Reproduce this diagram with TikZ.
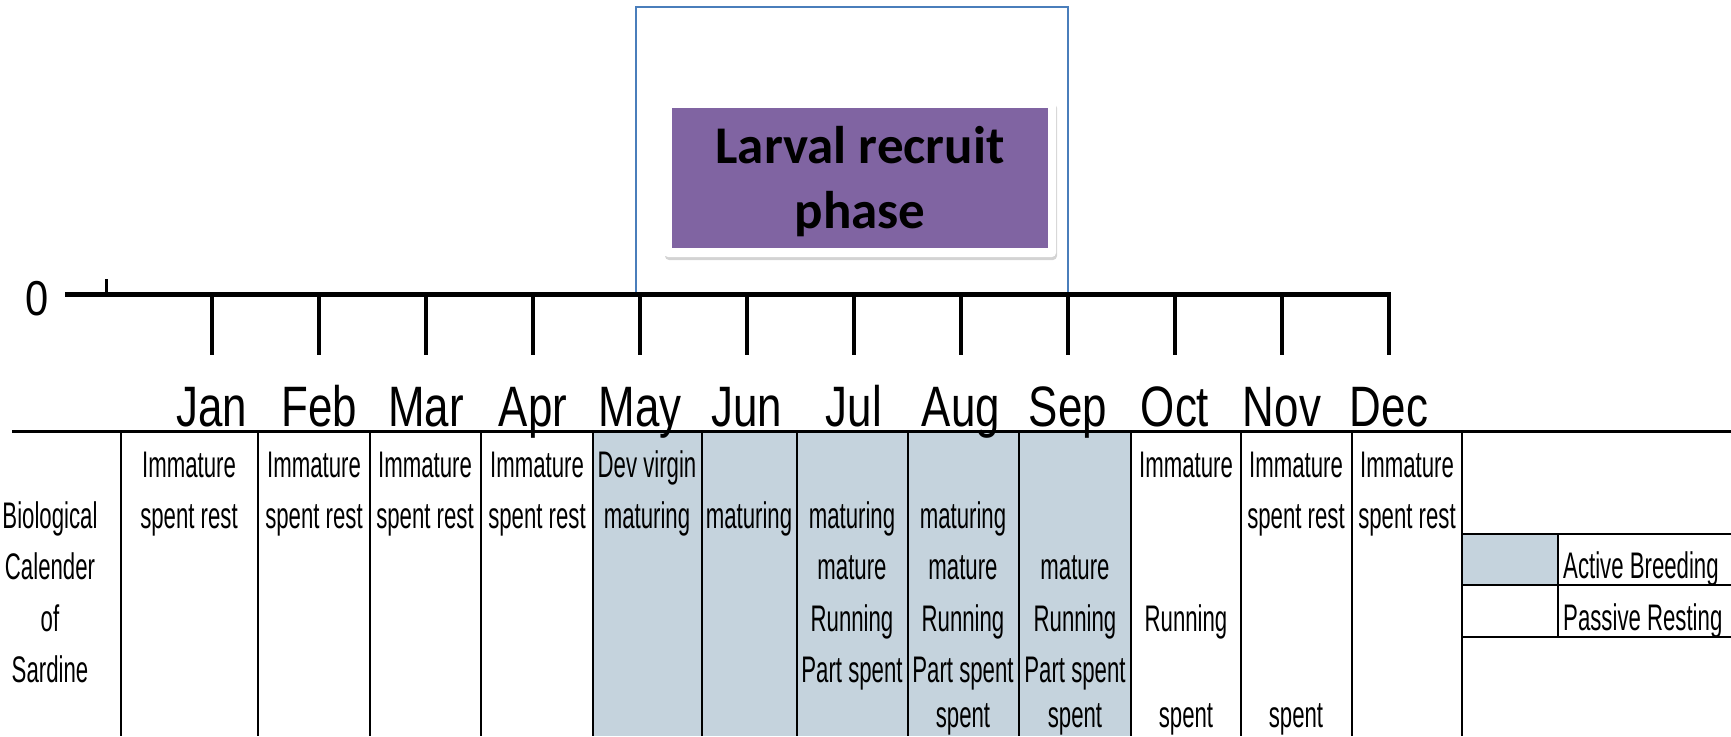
\documentclass[tikz,border=0pt]{standalone}
\usepackage{fontspec}
\setmainfont{Liberation Sans}
\newfontfamily\titlefont{Carlito}
\usetikzlibrary{shadows}
\definecolor{breed}{HTML}{C5D3DD}
\definecolor{phase}{HTML}{8064A2}
\definecolor{edge}{HTML}{4A7EBB}
\def\sqz#1{\scalebox{0.6}[1]{#1}}
\def\msqz#1{\scalebox{0.77}[1]{#1}}
\tikzset{
	celltext/.style={anchor=base, inner sep=0pt, font=\fontsize{37}{40}\selectfont},
	monthlabel/.style={anchor=base, inner sep=0pt, font=\fontsize{57}{60}\selectfont},
	tick/.style={line width=4pt},
	rule/.style={line width=2.2pt},
}

\begin{document}
\begin{tikzpicture}[x=1pt,y=-1pt]
				\useasboundingbox (0,0) rectangle (1731,736);
				\fill[breed] (593,431) rectangle (1131,736);
				\fill[breed] (1462,534) rectangle (1558,585);
				
				\draw[edge, line width=1.5pt] (636,292) -- (636,7) -- (1068,7) -- (1068,292);
				\node (shadowbox) [fill=white, rounded corners=4pt, minimum width=392pt, minimum height=156pt, inner sep=0pt, drop shadow={opacity=0.35, shadow xshift=1pt, shadow yshift=-3pt}] at (860,179) {};
				\node (phasebox) [fill=phase, minimum width=376pt, minimum height=140pt, inner sep=0pt] at (860,178) {};
				\node (phasetext) [align=center, inner sep=0pt, font=\titlefont\bfseries\fontsize{53}{65}\selectfont] at (860,182) {Larval recruit\\phase};
				
				\draw[line width=5pt] (65,294) -- (1391,294);
				\draw[line width=3pt] (106,279) -- (106,294);
				\draw[tick] (212,294) -- (212,355);
				\draw[tick] (319,294) -- (319,355);
				\draw[tick] (426,294) -- (426,355);
				\draw[tick] (533,294) -- (533,355);
				\draw[tick] (640,294) -- (640,355);
				\draw[tick] (747,294) -- (747,355);
				\draw[tick] (854,294) -- (854,355);
				\draw[tick] (961,294) -- (961,355);
				\draw[tick] (1068,294) -- (1068,355);
				\draw[tick] (1175,294) -- (1175,355);
				\draw[tick] (1282,294) -- (1282,355);
				\draw[tick] (1389,294) -- (1389,355);
				
				\node (zero) [monthlabel, font=\fontsize{49}{50}\selectfont] at (37,315) {\scalebox{0.85}[1]{0}};
				\node (jan) [monthlabel] at (212,426) {\msqz{Jan}};
				\node (feb) [monthlabel] at (319,426) {\msqz{Feb}};
				\node (mar) [monthlabel] at (426,426) {\msqz{Mar}};
				\node (apr) [monthlabel] at (533,426) {\msqz{Apr}};
				\node (may) [monthlabel] at (640,426) {\msqz{May}};
				\node (jun) [monthlabel] at (747,426) {\msqz{Jun}};
				\node (jul) [monthlabel] at (854,426) {\msqz{Jul}};
				\node (aug) [monthlabel] at (961,426) {\msqz{Aug}};
				\node (sep) [monthlabel] at (1068,426) {\msqz{Sep}};
				\node (oct) [monthlabel] at (1175,426) {\msqz{Oct}};
				\node (nov) [monthlabel] at (1282,426) {\msqz{Nov}};
				\node (dec) [monthlabel] at (1389,426) {\msqz{Dec}};
				
				\draw[line width=3pt] (12,431) -- (1731,431);
				\draw[rule] (121,431) -- (121,736);
				\draw[rule] (258,431) -- (258,736);
				\draw[rule] (370,431) -- (370,736);
				\draw[rule] (481,431) -- (481,736);
				\draw[rule] (593,431) -- (593,736);
				\draw[rule] (702,431) -- (702,736);
				\draw[rule] (797,431) -- (797,736);
				\draw[rule] (908,431) -- (908,736);
				\draw[rule] (1019,431) -- (1019,736);
				\draw[rule] (1131,431) -- (1131,736);
				\draw[rule] (1241,431) -- (1241,736);
				\draw[rule] (1352,431) -- (1352,736);
				\draw[rule] (1462,431) -- (1462,736);
				\draw[rule] (1462,534) -- (1731,534);
				\draw[rule] (1462,585) -- (1731,585);
				\draw[rule] (1462,637) -- (1731,637);
				\draw[rule] (1558,534) -- (1558,637);
				
				\node (bio1) [celltext] at (50,528) {\sqz{Biological}};
				\node (bio2) [celltext] at (50,579) {\sqz{Calender}};
				\node (bio3) [celltext] at (50,631) {\sqz{of}};
				\node (bio4) [celltext] at (50,682) {\sqz{Sardine}};
				
				\node (jan1) [celltext] at (189,477) {\sqz{Immature}};
				\node (jan2) [celltext] at (189,528) {\sqz{spent rest}};
				\node (feb1) [celltext] at (314,477) {\sqz{Immature}};
				\node (feb2) [celltext] at (314,528) {\sqz{spent rest}};
				\node (mar1) [celltext] at (425,477) {\sqz{Immature}};
				\node (mar2) [celltext] at (425,528) {\sqz{spent rest}};
				\node (apr1) [celltext] at (537,477) {\sqz{Immature}};
				\node (apr2) [celltext] at (537,528) {\sqz{spent rest}};
				\node (may1) [celltext] at (647,477) {\sqz{Dev virgin}};
				\node (may2) [celltext] at (647,528) {\sqz{maturing}};
				\node (jun2) [celltext] at (749,528) {\sqz{maturing}};
				\node (jul2) [celltext] at (852,528) {\sqz{maturing}};
				\node (jul3) [celltext] at (852,579) {\sqz{mature}};
				\node (jul4) [celltext] at (852,631) {\sqz{Running}};
				\node (jul5) [celltext] at (852,682) {\sqz{Part spent}};
				\node (aug2) [celltext] at (963,528) {\sqz{maturing}};
				\node (aug3) [celltext] at (963,579) {\sqz{mature}};
				\node (aug4) [celltext] at (963,631) {\sqz{Running}};
				\node (aug5) [celltext] at (963,682) {\sqz{Part spent}};
				\node (aug6) [celltext] at (963,727) {\sqz{spent}};
				\node (sep3) [celltext] at (1075,579) {\sqz{mature}};
				\node (sep4) [celltext] at (1075,631) {\sqz{Running}};
				\node (sep5) [celltext] at (1075,682) {\sqz{Part spent}};
				\node (sep6) [celltext] at (1075,727) {\sqz{spent}};
				\node (oct1) [celltext] at (1186,477) {\sqz{Immature}};
				\node (oct4) [celltext] at (1186,631) {\sqz{Running}};
				\node (oct6) [celltext] at (1186,727) {\sqz{spent}};
				\node (nov1) [celltext] at (1296,477) {\sqz{Immature}};
				\node (nov2) [celltext] at (1296,528) {\sqz{spent rest}};
				\node (nov6) [celltext] at (1296,727) {\sqz{spent}};
				\node (dec1) [celltext] at (1407,477) {\sqz{Immature}};
				\node (dec2) [celltext] at (1407,528) {\sqz{spent rest}};
				
				\node (active) [celltext, anchor=base west] at (1563,578) {\sqz{Active Breeding}};
				\node (passive) [celltext, anchor=base west] at (1563,630) {\sqz{Passive Resting}};
			\end{tikzpicture}
\end{document}
